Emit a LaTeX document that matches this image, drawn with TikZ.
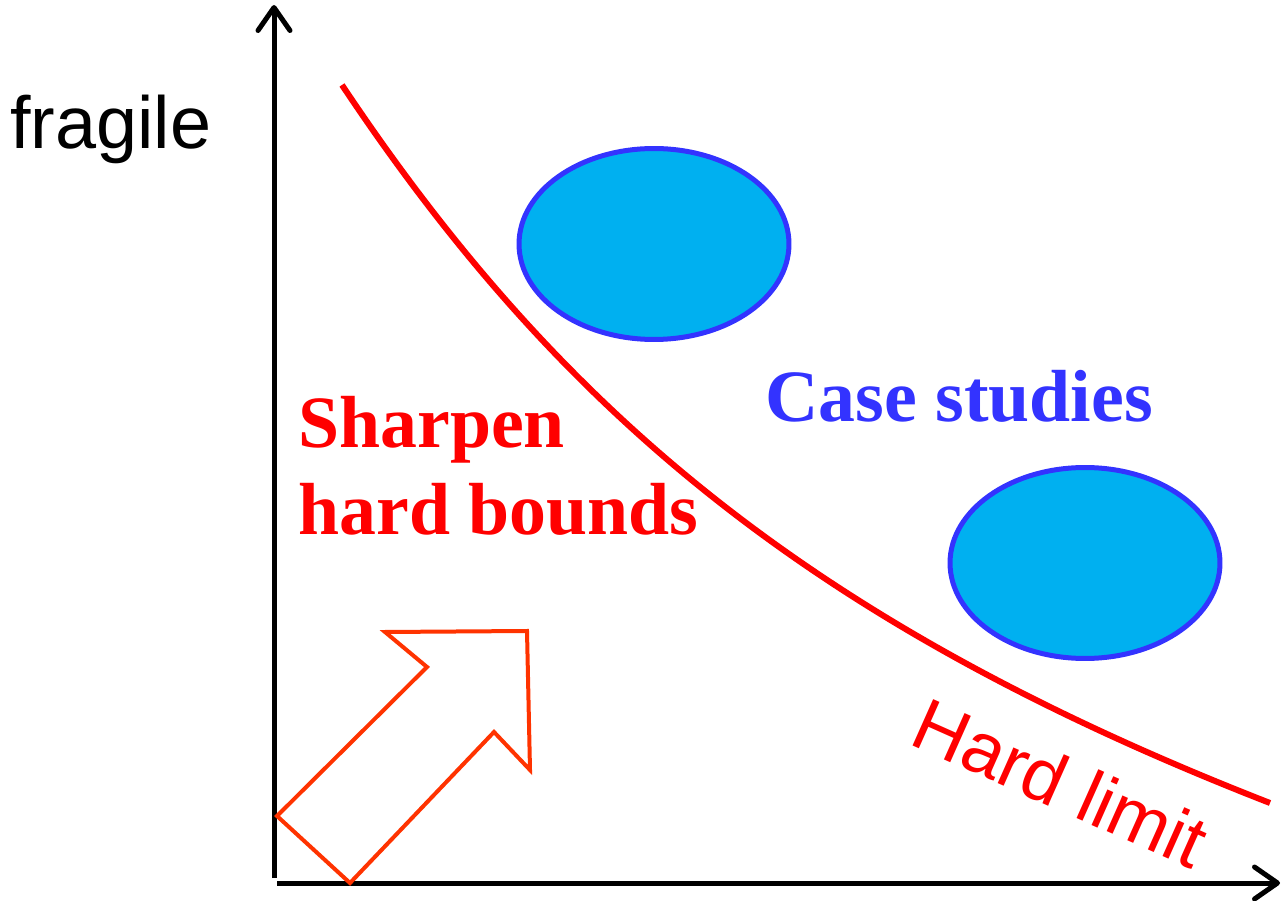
\documentclass[tikz,border=0pt]{standalone}
\usepackage{fontspec}
\setmainfont{Liberation Serif}
\newfontfamily\arialfont{Liberation Sans}
\usetikzlibrary{positioning,arrows.meta,shapes.geometric}

\begin{document}
\begin{tikzpicture}[x=0.02cm,y=0.02cm,
  axis/.style={line width=0.1cm, draw=black, -{Straight Barb[length=4.6mm,width=6.4mm,round]}},
  limit/.style={line width=0.12cm, draw=limcol},
  blob/.style={ellipse, draw=blobline, fill=blobcol, line width=0.1cm, minimum width=5.4cm, minimum height=3.82cm, inner sep=0pt},
  bigarrow/.style={draw=arrcol, line width=0.08cm, line join=miter},
  lab/.style={inner sep=0pt, font=\fontsize{42}{50}\selectfont}]

\definecolor{limcol}{RGB}{255,0,0}
\definecolor{arrcol}{RGB}{255,51,0}
\definecolor{blobcol}{RGB}{0,176,240}
\definecolor{blobline}{RGB}{51,51,255}

\useasboundingbox (0,0) rectangle (1285,900);

% ===== AXES =====
\coordinate (yfoot) at (274,22);
\coordinate (ytip)  at (274,895);
\coordinate (xfoot) at (277,17);
\coordinate (xtip)  at (1280,17);
\draw[axis] (yfoot) -- (ytip);
\draw[axis] (xfoot) -- (xtip);

\node[lab, anchor=base west, font=\fontsize{42}{50}\selectfont\arialfont] (fragile) at (10,751) {fragile};

% ===== CASE STUDIES =====
\node[blob] (caseA) at (654,656) {};
\node[blob] (caseB) at (1085,337) {};
\node[lab, anchor=base west, text=blobline, font=\fontsize{42}{50}\selectfont\bfseries] (cases) at (765,478) {Case studies};

% ===== HARD LIMIT =====
\coordinate (limtop) at (342,815);
\coordinate (limend) at (1270,97);
\draw[limit] (limtop) .. controls (564,482) and (819,273) .. (limend);
\node[lab, anchor=base west, rotate=-24, text=limcol, font=\fontsize{42}{50}\selectfont\arialfont] (hardlim) at (907,157) {Hard limit};

% ===== SHARPEN =====
\node[lab, anchor=base west, align=left, text=limcol, font=\fontsize{42}{50}\selectfont\bfseries] (sharpen) at (298,365) {Sharpen\\hard bounds};
\draw[bigarrow] (277,84) -- (350,17) -- (494,168) -- (530,130) -- (527,269) -- (385,268) -- (427,233) -- cycle;

\end{tikzpicture}
\end{document}
